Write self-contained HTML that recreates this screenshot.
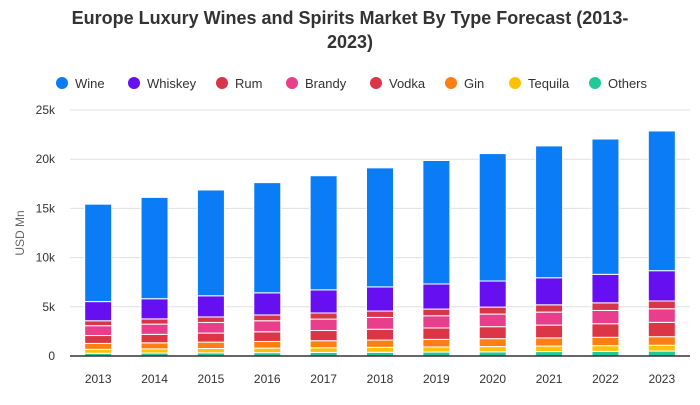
<!DOCTYPE html>
<html><head><meta charset="utf-8"><style>
body{margin:0;background:#fff;font-family:"Liberation Sans",Arial,sans-serif}
</style></head><body>
<svg id="c" width="700" height="400" xmlns="http://www.w3.org/2000/svg">
<text x="350" y="24" text-anchor="middle" font-size="18" font-weight="bold" fill="#333">Europe Luxury Wines and Spirits Market By Type Forecast (2013-</text>
<text x="350" y="48" text-anchor="middle" font-size="18" font-weight="bold" fill="#333">2023)</text>
<g id="legend"></g>
<g id="grid"></g>
<g id="bars"></g>
<g id="axes"></g>
<text transform="translate(24,233) rotate(-90)" text-anchor="middle" font-size="12" fill="#666">USD Mn</text>
</svg>
<script>
const years=["2013","2014","2015","2016","2017","2018","2019","2020","2021","2022","2023"];
const seriesNames=["Others","Tequila","Gin","Vodka","Brandy","Rum","Whiskey","Wine"];
const others=[0.28,0.3,0.32,0.34,0.36,0.38,0.4,0.42,0.45,0.47,0.5];
const tequila=[0.4,0.42,0.44,0.46,0.48,0.5,0.52,0.54,0.56,0.58,0.59];
const gin=[0.6,0.62,0.65,0.68,0.71,0.74,0.77,0.8,0.83,0.85,0.87];
const vodka=[0.8,0.86,0.92,0.98,1.04,1.1,1.16,1.22,1.3,1.38,1.46];
const brandy=[1.0,1.04,1.08,1.12,1.16,1.2,1.24,1.28,1.32,1.35,1.38];
const rum=[0.5,0.53,0.56,0.59,0.62,0.65,0.68,0.71,0.74,0.77,0.79];
const whiskey=[1.95,2.05,2.15,2.25,2.35,2.45,2.55,2.65,2.75,2.9,3.08];
const wine=[9.9,10.3,10.75,11.2,11.6,12.1,12.55,12.95,13.4,13.75,14.2];
const yTicks=[0,5,10,15,20,25];
const yTickLabels=["0","5k","10k","15k","20k","25k"];
const legendNames=["Wine","Whiskey","Rum","Brandy","Vodka","Gin","Tequila","Others"];
const colors={Wine:"#0a7cf5",Whiskey:"#6610f2",Rum:"#d63649",Brandy:"#e83e8c",Vodka:"#dc3545",Gin:"#fd7e14",Tequila:"#ffc107",Others:"#20c997"};
const data=[others,tequila,gin,vodka,brandy,rum,whiskey,wine];
const NS="http://www.w3.org/2000/svg";
const x0=70,x1=690,y0=356,y1=110,yMax=25;
const band=(x1-x0)/years.length,bw=27;
const yS=v=>y0-(v/yMax)*(y0-y1);
const xS=i=>x0+band*(i+0.5);
function mk(t,a,p){const e=document.createElementNS(NS,t);for(const k in a)e.setAttribute(k,a[k]);p.appendChild(e);return e;}
const grid=document.getElementById('grid'),axes=document.getElementById('axes'),bars=document.getElementById('bars'),leg=document.getElementById('legend');
yTicks.forEach((t,i)=>{
 if(t>0){const l=mk('line',{x1:x0,x2:x1,y1:yS(t),y2:yS(t),stroke:'#e0e0e0'},grid);
 
 }
 const tx=mk('text',{x:55,y:yS(t)+4,'text-anchor':'end','font-size':12,fill:'#333'},axes);tx.textContent=yTickLabels[i];
 
 
});
const ax=mk('line',{x1:x0,x2:x1,y1:y0,y2:y0,stroke:'#333','stroke-width':1.5},axes);


years.forEach((y,i)=>{
 const tx=mk('text',{x:xS(i),y:383,'text-anchor':'middle','font-size':12,fill:'#333'},axes);tx.textContent=y;
 
 
 let cum=0;
 data.forEach((s,j)=>{
  const b=cum,t=cum+s[i];cum=t;
  const r=mk('rect',{x:xS(i)-bw/2,y:yS(t),width:bw,height:Math.max(0,yS(b)-yS(t)),fill:colors[seriesNames[j]],stroke:'#fff','stroke-width':1},bars);
  
  
 });
});
const lx=[62,134,222,292,376,451,515,595];
legendNames.forEach((n,i)=>{
 const g=mk('g',{},leg);
 
 
 mk('circle',{cx:lx[i],cy:83,r:6,fill:colors[n]},g);
 const t=mk('text',{x:lx[i]+13,y:88,'font-size':13,fill:'#333'},g);t.textContent=n;
});
</script>
</body></html>
